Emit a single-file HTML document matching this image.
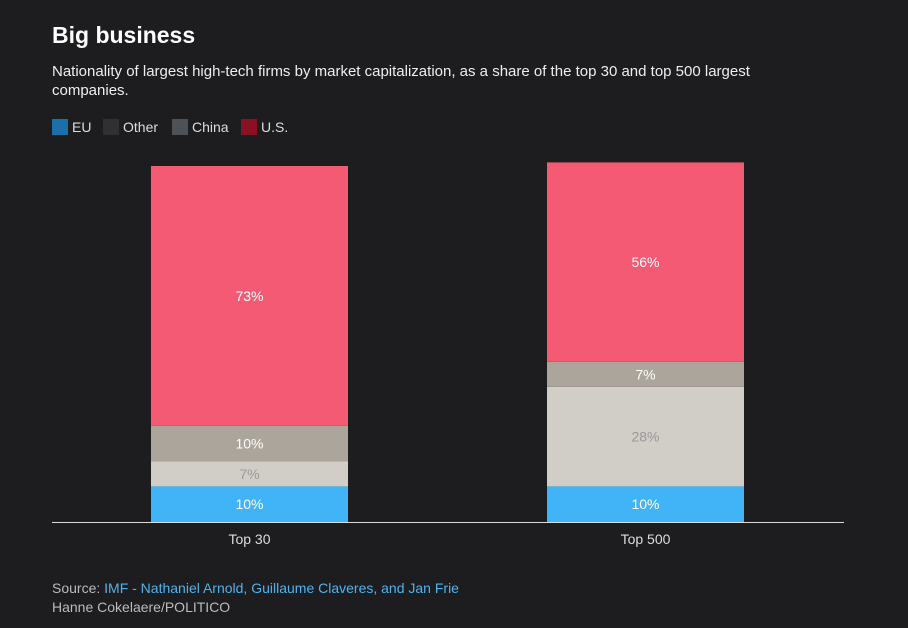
<!DOCTYPE html>
<html><head><meta charset="utf-8"><style>
body{margin:0;width:908px;height:628px;background:#1d1d1f;font-family:"Liberation Sans",sans-serif;color:#fff;overflow:hidden;position:relative}
.t{position:absolute;left:52px;top:22px;font-size:23px;font-weight:bold}
.s{position:absolute;left:52px;top:62px;width:760px;font-size:15px;line-height:19px;color:#eee}
.lg{position:absolute;top:119px;font-size:14px;color:#ddd;display:flex;align-items:center}
.lg i{display:inline-block;width:16px;height:16px;margin-right:4px}
.f{position:absolute;left:52px;font-size:14px;color:#bbb}
</style></head><body>
<div class="t">Big business</div>
<div class="s">Nationality of largest high-tech firms by market capitalization, as a share of the top 30 and top 500 largest companies.</div>
<div class="lg" style="left:52px"><i style="background:#1b6fab"></i>EU</div>
<div class="lg" style="left:103px"><i style="background:#2e3033"></i>Other</div>
<div class="lg" style="left:172px"><i style="background:#4e5257"></i>China</div>
<div class="lg" style="left:241px"><i style="background:#8c1023"></i>U.S.</div>
<svg id="c" width="908" height="628" style="position:absolute;left:0;top:0"></svg>
<div class="f" style="top:580px">Source: <span style="color:#4eb3ef">IMF - Nathaniel Arnold, Guillaume Claveres, and Jan Frie</span></div>
<div class="f" style="top:599px">Hanne Cokelaere/POLITICO</div>
<script>
const categories=["Top 30","Top 500"];
const seriesNames=["EU","Other","China","U.S."];
const eu=[10,10];
const other=[7,28];
const china=[10,7];
const us=[73,56];
const colors=["#41b4f7","#d1cec8","#aca59b","#f45a74"];
const textCol=["#fff","#999","#fff","#fff"];
const svg=document.getElementById('c');
const NS="http://www.w3.org/2000/svg";
const base=522,scale=3.56,barW=197,xStart=[151,547];
function y(v){return base-v*scale;}
const series=[eu,other,china,us];
categories.forEach((cat,i)=>{
  let acc=0;
  series.forEach((s,k)=>{
    const v=s[i];
    const r=document.createElementNS(NS,'rect');
    r.setAttribute('x',xStart[i]);r.setAttribute('width',barW);
    r.setAttribute('y',y(acc+v));r.setAttribute('height',v*scale);
    r.setAttribute('fill',colors[k]);
    
    
    svg.appendChild(r);
    const t=document.createElementNS(NS,'text');
    t.setAttribute('x',xStart[i]+barW/2);t.setAttribute('y',y(acc+v/2)+5);
    t.setAttribute('text-anchor','middle');t.setAttribute('font-size','14');
    t.setAttribute('fill',textCol[k]);t.setAttribute('font-family','Liberation Sans, sans-serif');
    t.textContent=v+'%';
    
    
    svg.appendChild(t);
    acc+=v;
  });
  const c=document.createElementNS(NS,'text');
  c.setAttribute('x',xStart[i]+barW/2);c.setAttribute('y',544);
  c.setAttribute('text-anchor','middle');c.setAttribute('font-size','14');c.setAttribute('fill','#ddd');
  c.setAttribute('font-family','Liberation Sans, sans-serif');
  c.textContent=cat;
  
  
  svg.appendChild(c);
});
const l=document.createElementNS(NS,'line');
l.setAttribute('x1',52);l.setAttribute('x2',844);l.setAttribute('y1',522.5);l.setAttribute('y2',522.5);
l.setAttribute('stroke','#ddd');l.setAttribute('stroke-width','1');


svg.appendChild(l);
</script>
</body></html>
